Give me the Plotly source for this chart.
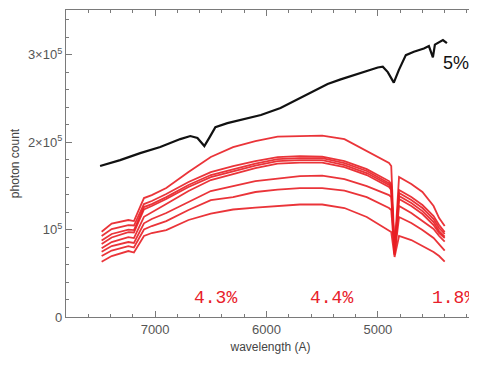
import plotly.graph_objects as go

# wavelength grid for the red spectra (Angstrom)
red_wl = [7480, 7390, 7240, 7190, 7100, 7030, 6900, 6700, 6500, 6300, 6100, 5900,
          5700, 5500, 5300, 5100, 4900, 4880, 4850, 4810, 4700, 4600, 4500, 4450, 4400]

# red spectra (photon count, thousands)
red1 = [97.5, 106.9, 110.9, 109.7, 136.0, 139.4, 147.4, 165.7, 182.9, 194.3, 201.1, 206.3,
        206.9, 207.4, 203.4, 189.7, 176.0, 172.6, 76.6, 160.0, 152.0, 142.9, 126.9, 113.1, 104.0]
red2 = [92.6, 100.6, 105.1, 104.6, 129.1, 132.6, 140.6, 154.3, 165.7, 172.6, 178.3, 182.9,
        184.0, 183.4, 178.3, 169.1, 155.4, 152.0, 74.3, 145.1, 137.1, 128.0, 115.4, 105.1, 97.1]
red3 = [87.4, 94.9, 100.0, 99.4, 125.7, 129.1, 137.1, 150.9, 162.3, 169.1, 175.4, 180.6,
        181.7, 181.7, 176.0, 166.9, 153.1, 149.7, 74.3, 141.7, 133.7, 124.6, 112.0, 101.7, 94.9]
red4 = [83.4, 90.9, 97.1, 96.6, 123.1, 126.9, 134.9, 148.6, 160.0, 166.9, 173.1, 178.3,
        179.4, 179.4, 173.7, 164.6, 150.9, 147.4, 73.1, 138.3, 130.3, 121.1, 108.6, 98.3, 92.0]
red5 = [78.5, 85.7, 91.4, 90.3, 114.6, 120.0, 129.1, 144.0, 156.6, 163.4, 170.3, 175.4,
        176.6, 176.6, 171.4, 162.3, 148.6, 145.1, 73.1, 134.9, 126.9, 117.7, 105.1, 96.0, 90.3]
red6 = [74.6, 81.1, 85.7, 84.6, 107.1, 112.0, 118.9, 131.4, 144.0, 149.7, 155.4, 158.3,
        161.1, 161.7, 157.7, 149.7, 139.4, 137.1, 72.0, 126.9, 118.9, 109.7, 100.6, 92.6, 86.1]
red7 = [69.7, 76.0, 81.1, 79.4, 100.0, 104.0, 109.7, 122.3, 133.7, 137.1, 142.9, 145.7,
        147.4, 147.4, 144.6, 137.1, 124.6, 122.3, 70.9, 114.3, 107.4, 99.4, 90.3, 83.4, 75.8]
red8 = [63.2, 69.7, 75.4, 73.7, 92.6, 96.0, 99.4, 110.9, 118.3, 122.9, 125.1, 126.9,
        128.6, 128.6, 124.6, 114.3, 99.4, 97.1, 68.6, 92.6, 88.0, 81.1, 74.3, 69.7, 63.2]
red_series = [red1, red2, red3, red4, red5, red6, red7, red8]

# black reference spectrum
black_wl = [7494, 7314, 7134, 6954, 6774, 6684, 6620, 6558, 6510, 6459, 6351, 6234, 6050,
            5874, 5784, 5694, 5577, 5451, 5334, 5217, 5091, 5001, 4956, 4911, 4857, 4812,
            4749, 4677, 4587, 4542, 4506, 4488, 4416, 4380]
black_val = [172.6, 179.4, 187.4, 194.3, 203.4, 206.9, 204.6, 195.4, 205.7, 217.1, 221.7,
             225.1, 231.0, 238.9, 244.6, 250.3, 258.6, 266.3, 271.7, 276.6, 281.1, 285.3,
             286.1, 280.0, 268.0, 282.3, 299.4, 303.2, 307.0, 309.7, 296.8, 311.4, 316.6, 313.0]

# annotations
red_labels = ["4.3%", "4.4%", "1.8%"]
red_label_wl = [6460, 5420, 4320]
red_label_y = [21700, 21700, 21700]
black_label = "5%"
black_label_wl = [4300]
black_label_y = [290000]

# ticks
x_ticks = [7000, 6000, 5000]
x_ticktext = ["7000", "6000", "5000"]
y_ticks = [0, 100000, 200000, 300000]
y_ticktext = ["0", "10<sup>5</sup>", "2×10<sup>5</sup>", "3×10<sup>5</sup>"]

fig = go.Figure()
for s in red_series:
    fig.add_trace(go.Scatter(x=red_wl, y=[v * 1000 for v in s], mode="lines",
                             line=dict(color="rgba(232,30,36,0.9)", width=1.8),
                             showlegend=False, hoverinfo="skip"))
fig.add_trace(go.Scatter(x=black_wl, y=[v * 1000 for v in black_val], mode="lines",
                         line=dict(color="#111111", width=2.2),
                         showlegend=False, hoverinfo="skip"))

for t, xw, yv in zip(red_labels, red_label_wl, red_label_y):
    fig.add_annotation(x=xw, y=yv, text=t, showarrow=False, xanchor="center", yanchor="middle",
                       font=dict(family="Liberation Mono, DejaVu Sans Mono, monospace",
                                 size=18, color="#e8202a"))
fig.add_annotation(x=black_label_wl[0], y=black_label_y[0], text=black_label, showarrow=False,
                   xanchor="center", yanchor="middle",
                   font=dict(family="Liberation Sans Narrow, Liberation Sans, Arial, sans-serif",
                             size=18, color="#111111"))

axis_font = dict(family="Liberation Sans, Arial, sans-serif", size=12, color="#444444")
tick_font = dict(family="Liberation Sans, Arial, sans-serif", size=13, color="#555555")
# the page body adds an 8px margin, so the figure is 8px smaller and margins shifted
fig.update_layout(
    width=469, height=357,
    margin=dict(l=58, r=2, t=2, b=48, autoexpand=False),
    paper_bgcolor="white", plot_bgcolor="white",
    font=axis_font,
    xaxis=dict(range=[7800, 4128], showgrid=False, zeroline=False, automargin=False,
               showline=True, linecolor="#7a7a7a", linewidth=1.3, mirror="ticks",
               ticks="inside", ticklen=6, tickcolor="#7a7a7a", tickwidth=1,
               tickvals=x_ticks, ticktext=x_ticktext, tickfont=tick_font,
               minor=dict(ticks="inside", ticklen=3, dtick=200, tick0=7000,
                          tickcolor="#7a7a7a", showgrid=False),
               title=dict(text="wavelength (A)", standoff=6, font=axis_font)),
    yaxis=dict(range=[0, 351000], showgrid=False, zeroline=False, automargin=False,
               showline=True, linecolor="#7a7a7a", linewidth=1.3, mirror="ticks",
               ticks="inside", ticklen=6, tickcolor="#7a7a7a", tickwidth=1,
               tickvals=y_ticks, ticktext=y_ticktext, tickfont=tick_font,
               minor=dict(ticks="inside", ticklen=3, dtick=20000, tick0=0,
                          tickcolor="#7a7a7a", showgrid=False),
               title=dict(text="photon count", standoff=10, font=axis_font)),
)

fig.write_html("out.html")
